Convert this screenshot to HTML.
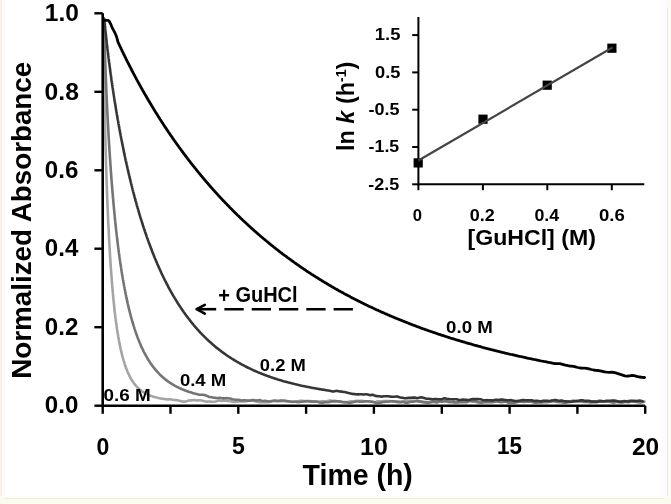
<!DOCTYPE html>
<html><head><meta charset="utf-8"><style>
html,body{margin:0;padding:0;background:#fff;width:671px;height:504px;overflow:hidden;position:relative}
</style></head><body>
<svg width="671" height="504" viewBox="0 0 671 504" style="position:absolute;left:0;top:0;will-change:transform">
<rect x="0" y="0" width="671" height="504" fill="#fff"/>
<rect x="0" y="0" width="1" height="504" fill="#fbf2ec"/>
<rect x="1" y="0" width="1" height="504" fill="#f3ece4"/>
<rect x="2" y="0" width="2" height="504" fill="#fffdf6"/>
<rect x="4" y="0" width="1" height="504" fill="#fdf8f5"/>
<rect x="662" y="0" width="5" height="504" fill="#fdfcfa"/>
<rect x="667" y="0" width="4" height="504" fill="#fcfbf0"/>
<rect x="667" y="8" width="1" height="488" fill="#ebe7e2"/>
<rect x="0" y="496" width="671" height="2" fill="#fdfdf8"/>
<rect x="0" y="498" width="671" height="6" fill="#fcfbef"/>
<rect x="5" y="498" width="659" height="1" fill="#eeebe5"/>
<path d="M103.3,18.0 L103.3,20.7 L103.3,23.4 L103.3,25.9 L103.3,28.2 L103.3,30.3 L103.4,32.4 L103.4,34.5 L103.4,36.6 L103.4,38.6 L103.5,40.6 L103.5,42.6 L103.5,44.5 L103.5,46.5 L103.6,48.4 L103.6,50.2 L103.6,52.0 L103.6,53.9 L103.7,55.7 L103.7,57.4 L103.7,59.2 L103.8,60.9 L103.8,62.6 L103.8,64.3 L103.8,65.9 L103.9,67.6 L103.9,69.2 L103.9,70.8 L103.9,72.4 L104.0,74.0 L104.0,75.5 L104.0,77.1 L104.0,78.6 L104.1,80.1 L104.1,81.6 L104.1,83.1 L104.2,84.6 L104.2,86.0 L104.2,87.5 L104.2,88.9 L104.3,90.3 L104.3,91.7 L104.3,93.1 L104.3,94.5 L104.4,95.8 L104.4,97.2 L104.4,98.5 L104.4,99.8 L104.5,101.1 L104.5,102.4 L104.5,103.7 L104.6,105.0 L104.6,106.3 L104.6,107.6 L104.6,108.8 L104.7,110.1 L104.7,111.3 L104.7,112.5 L104.7,113.7 L104.8,114.9 L104.8,116.1 L104.8,117.3 L104.8,118.5 L104.9,119.6 L104.9,120.8 L104.9,121.9 L105.0,123.1 L105.0,124.2 L105.0,125.3 L105.0,126.5 L105.1,127.6 L105.1,128.7 L105.1,129.8 L105.1,130.8 L105.2,131.9 L105.2,133.0 L105.2,134.1 L105.2,135.1 L105.3,136.2 L105.3,137.2 L105.3,138.2 L105.4,139.3 L105.4,140.3 L105.4,141.3 L105.4,142.3 L105.5,143.3 L105.5,144.3 L105.5,145.3 L105.5,146.3 L105.6,147.2 L105.6,148.2 L105.6,149.2 L105.6,150.1 L105.7,151.1 L105.7,152.0 L105.7,153.0 L105.8,153.9 L105.8,154.8 L105.8,155.7 L105.8,156.7 L105.9,157.6 L105.9,158.5 L105.9,159.4 L105.9,160.3 L106.0,161.2 L106.0,162.0 L106.0,162.9 L106.0,163.8 L106.1,164.7 L106.1,165.5 L106.1,166.4 L106.2,167.2 L106.2,168.1 L106.2,168.9 L106.2,169.8 L106.3,170.6 L106.3,171.4 L106.3,172.3 L106.3,173.1 L106.4,173.9 L106.4,174.7 L106.4,175.5 L106.4,176.3 L106.5,177.1 L106.5,177.9 L106.5,178.7 L106.6,179.5 L106.6,180.3 L106.6,181.0 L106.6,181.8 L106.7,182.6 L106.7,183.3 L106.7,184.1 L106.7,184.8 L106.8,185.6 L106.8,186.3 L106.8,187.1 L106.8,187.8 L106.9,188.6 L106.9,189.3 L106.9,190.0 L107.0,190.8 L107.0,191.5 L107.0,192.2 L107.0,192.9 L107.1,193.6 L107.1,194.3 L107.1,195.0 L107.1,195.7 L107.2,196.4 L107.2,197.1 L107.2,197.8 L107.2,198.5 L107.3,199.2 L107.3,199.8 L107.3,200.5 L107.4,201.2 L107.4,201.9 L107.4,202.5 L107.4,203.2 L107.5,203.9 L107.5,204.5 L107.5,205.2 L107.5,205.8 L107.6,206.5 L107.6,207.2 L107.6,207.8 L107.7,208.5 L107.7,209.2 L107.7,209.8 L107.7,210.5 L107.8,211.2 L107.8,211.8 L107.8,212.5 L107.9,213.2 L107.9,213.8 L107.9,214.5 L107.9,215.2 L108.0,215.8 L108.0,216.5 L108.0,217.1 L108.1,217.8 L108.1,218.5 L108.1,219.1 L108.1,219.8 L108.2,220.5 L108.2,221.1 L108.2,221.8 L108.3,222.5 L108.3,223.1 L108.3,223.8 L108.4,224.5 L108.4,225.1 L108.4,225.8 L108.5,226.4 L108.5,227.1 L108.5,227.8 L108.6,228.4 L108.6,229.1 L108.6,229.8 L108.7,230.4 L108.7,231.1 L108.7,231.8 L108.8,232.4 L108.8,233.1 L108.8,233.7 L108.9,234.4 L108.9,235.1 L108.9,235.7 L109.0,236.4 L109.0,237.1 L109.0,237.7 L109.1,238.4 L109.1,239.1 L109.1,239.7 L109.2,240.4 L109.2,241.1 L109.2,241.7 L109.3,242.4 L109.3,243.0 L109.4,243.7 L109.4,244.4 L109.4,245.0 L109.5,245.7 L109.5,246.4 L109.5,247.0 L109.6,247.7 L109.6,248.3 L109.7,249.0 L109.7,249.7 L109.7,250.3 L109.8,251.0 L109.8,251.7 L109.9,252.3 L109.9,253.0 L109.9,253.7 L110.0,254.3 L110.0,255.0 L110.1,255.6 L110.1,256.3 L110.1,257.0 L110.2,257.6 L110.2,258.3 L110.3,259.0 L110.3,259.6 L110.4,260.3 L110.4,260.9 L110.4,261.6 L110.5,262.3 L110.5,262.9 L110.6,263.6 L110.6,264.3 L110.7,264.9 L110.7,265.6 L110.7,266.2 L110.8,266.9 L110.8,267.6 L110.9,268.2 L110.9,268.9 L111.0,269.6 L111.0,270.2 L111.1,270.9 L111.1,271.5 L111.2,272.2 L111.2,272.9 L111.3,273.5 L111.3,274.2 L111.4,274.9 L111.4,275.5 L111.5,276.2 L111.5,276.8 L111.6,277.5 L111.6,278.2 L111.7,278.8 L111.7,279.5 L111.8,280.2 L111.8,280.8 L111.9,281.5 L111.9,282.1 L112.0,282.8 L112.0,283.5 L112.1,284.1 L112.1,284.8 L112.2,285.5 L112.3,286.1 L112.3,286.8 L112.4,287.4 L112.4,288.1 L112.5,288.8 L112.5,289.4 L112.6,290.1 L112.7,290.7 L112.7,291.4 L112.8,292.1 L112.8,292.7 L112.9,293.4 L113.0,294.0 L113.0,294.7 L113.1,295.4 L113.1,296.0 L113.2,296.7 L113.3,297.4 L113.3,298.0 L113.4,298.7 L113.5,299.3 L113.5,300.0 L113.6,300.7 L113.7,301.3 L113.7,302.0 L113.8,302.6 L113.9,303.3 L113.9,304.0 L114.0,304.6 L114.1,305.3 L114.1,305.9 L114.2,306.6 L114.3,307.3 L114.3,307.9 L114.4,308.6 L114.5,309.2 L114.6,309.9 L114.6,310.6 L114.7,311.2 L114.8,311.9 L114.9,312.5 L114.9,313.2 L115.0,313.9 L115.1,314.5 L115.2,315.2 L115.3,315.8 L115.3,316.5 L115.4,317.2 L115.5,317.8 L115.6,318.5 L115.7,319.1 L115.8,319.8 L115.8,320.4 L115.9,321.1 L116.0,321.8 L116.1,322.4 L116.2,323.1 L116.3,323.7 L116.4,324.4 L116.5,325.1 L116.6,325.7 L116.7,326.4 L116.8,327.0 L116.9,327.7 L116.9,328.3 L117.0,329.0 L117.1,329.7 L117.2,330.3 L117.3,331.0 L117.5,331.6 L117.6,332.3 L117.7,332.9 L117.8,333.6 L117.9,334.3 L118.0,334.9 L118.1,335.6 L118.2,336.2 L118.3,336.9 L118.4,337.5 L118.5,338.2 L118.7,338.9 L118.8,339.5 L118.9,340.2 L119.0,340.8 L119.1,341.5 L119.3,342.1 L119.4,342.8 L119.5,343.4 L119.6,344.1 L119.8,344.8 L119.9,345.4 L120.0,346.1 L120.2,346.7 L120.3,347.4 L120.5,348.0 L120.6,348.7 L120.7,349.3 L120.9,350.0 L121.0,350.6 L121.2,351.3 L121.3,351.9 L121.5,352.6 L121.7,353.3 L121.8,353.9 L122.0,354.6 L122.1,355.2 L122.3,355.9 L122.5,356.5 L122.7,357.2 L122.8,357.8 L123.0,358.5 L123.2,359.1 L123.4,359.8 L123.6,360.4 L123.8,361.1 L124.0,361.7 L124.2,362.4 L124.4,363.0 L124.6,363.7 L124.8,364.3 L125.0,365.0 L125.2,365.6 L125.4,366.3 L125.7,366.9 L125.9,367.6 L126.1,368.2 L126.4,368.8 L126.6,369.5 L126.9,370.1 L127.2,370.8 L127.4,371.4 L127.7,372.1 L128.0,372.7 L128.3,373.4 L128.6,374.0 L128.9,374.6 L129.2,375.3 L129.5,375.9 L129.8,376.6 L130.2,377.2 L130.5,377.8 L130.9,378.5 L131.2,379.1 L131.6,379.8 L132.0,380.4 L132.4,381.0 L132.8,381.7 L133.3,382.3 L133.7,382.9 L134.2,383.6 L134.7,384.2 L135.2,384.8 L135.7,385.4 L136.2,386.1 L136.8,386.7 L137.4,387.3 L138.0,387.9 L138.7,388.5 L139.4,389.2 L140.1,389.8 L140.9,390.4 L141.7,391.0 L142.6,391.6 L143.5,392.2 L144.4,392.8 L145.4,393.4 L146.5,393.9 L147.5,394.4 L148.5,394.9 L149.5,395.3 L150.5,395.7 L151.5,396.0 L152.5,396.4 L153.5,396.7 L154.5,397.0 L155.5,397.3 L156.5,397.5 L157.5,397.8 L158.5,398.0 L159.5,398.2 L160.5,398.4 L161.5,398.6 L162.5,398.7 L163.5,398.9 L164.5,399.0 L165.5,399.2 L166.5,399.3 L167.5,399.4 L168.5,399.4 L169.5,399.3 L170.5,399.3 L171.5,399.5 L172.5,399.7 L173.5,399.9 L174.5,400.0 L175.5,400.0 L176.5,400.1 L177.5,400.3 L178.5,400.5 L179.5,400.8 L180.5,401.0 L181.5,401.3 L182.5,401.5 L183.5,401.6 L184.5,401.6 L185.5,401.5 L186.5,401.3 L187.5,400.9 L188.5,400.6 L189.5,400.5 L190.5,400.4 L191.5,400.4 L192.5,400.3 L193.5,400.1 L194.5,400.1 L195.5,400.2 L196.5,400.4 L197.5,400.5 L198.5,400.4 L199.5,400.3 L200.5,400.3 L201.5,400.5 L202.5,400.8 L203.5,401.1 L204.5,401.3 L205.5,401.5 L206.5,401.7 L207.5,401.6 L208.5,401.5 L209.5,401.5 L210.5,401.6 L211.5,401.7 L212.5,401.8 L213.5,401.8 L214.5,401.7 L215.5,401.5 L216.5,401.2 L217.5,400.8 L218.5,400.6 L219.5,400.6 L220.5,400.8 L221.5,400.9 L222.5,400.8 L223.5,400.6 L224.5,400.6 L225.5,400.6 L226.5,400.8 L227.5,400.9 L228.5,401.0 L229.5,401.0 L230.5,401.1 L231.5,401.4 L232.5,401.7 L233.5,401.9 L234.5,401.9 L235.5,401.8 L236.5,401.8 L237.5,401.7 L238.5,401.5 L239.5,401.4 L240.5,401.4 L241.5,401.5 L242.5,401.5 L243.5,401.5 L244.5,401.5 L245.5,401.4 L246.5,401.2 L247.5,400.9 L248.5,400.7 L249.5,400.6 L250.5,400.6 L251.5,400.6 L252.5,400.7 L253.5,400.8 L254.5,400.9 L255.5,401.2 L256.5,401.5 L257.5,401.8 L258.5,402.0 L259.5,402.1 L260.5,402.2 L261.5,402.2 L262.5,402.1 L263.5,402.0 L264.5,402.1 L265.5,402.2 L266.5,402.2 L267.5,402.1 L268.5,402.0 L269.5,401.9 L270.5,401.6 L271.5,401.3 L272.5,401.1 L273.5,400.8 L274.5,400.6 L275.5,400.5 L276.5,400.6 L277.5,400.9 L278.5,401.0 L279.5,401.1 L280.5,401.1 L281.5,401.1 L282.5,401.2 L283.5,401.2 L284.5,401.3 L285.5,401.3 L286.5,401.4 L287.5,401.4 L288.5,401.5 L289.5,401.7 L290.5,401.8 L291.5,401.8 L292.5,401.8 L293.5,401.8 L294.5,401.6 L295.5,401.5 L296.5,401.3 L297.5,401.2 L298.5,401.1 L299.5,401.0 L300.5,400.9 L301.5,400.9 L302.5,400.9 L303.5,401.0 L304.5,401.1 L305.5,401.2 L306.5,401.2 L307.5,401.2 L308.5,401.2 L309.5,401.1 L310.5,401.1 L311.5,401.2 L312.5,401.3 L313.5,401.4 L314.5,401.5 L315.5,401.6 L316.5,401.8 L317.5,401.8 L318.5,401.8 L319.5,401.6 L320.5,401.5 L321.5,401.4 L322.5,401.3 L323.5,401.2 L324.5,401.2 L325.5,401.3 L326.5,401.2 L327.5,401.0 L328.5,400.7 L329.5,400.5 L330.5,400.6 L331.5,400.7 L332.5,400.9 L333.5,400.9 L334.5,400.9 L335.5,400.9 L336.5,401.1 L337.5,401.4 L338.5,401.6 L339.5,401.8 L340.5,401.9 L341.5,402.0 L342.5,402.0 L343.5,402.0 L344.5,402.1 L345.5,402.1 L346.5,402.1 L347.5,402.0 L348.5,401.8 L349.5,401.6 L350.5,401.4 L351.5,401.4 L352.5,401.4 L353.5,401.4 L354.5,401.2 L355.5,400.9 L356.5,400.8 L357.5,400.8 L358.5,400.9 L359.5,401.0 L360.5,400.9 L361.5,400.9 L362.5,400.9 L363.5,401.0 L364.5,401.2 L365.5,401.3 L366.5,401.3 L367.5,401.3 L368.5,401.3 L369.5,401.3 L370.5,401.5 L371.5,401.6 L372.5,401.9 L373.5,402.2 L374.5,402.3 L375.5,402.0 L376.5,401.6 L377.5,401.3 L378.5,401.2 L379.5,401.3 L380.5,401.4 L381.5,401.3 L382.5,401.2 L383.5,401.1 L384.5,401.1 L385.5,401.1 L386.5,401.1 L387.5,401.1 L388.5,401.0 L389.5,401.0 L390.5,401.2 L391.5,401.4 L392.5,401.5 L393.5,401.4 L394.5,401.3 L395.5,401.3 L396.5,401.3 L397.5,401.4 L398.5,401.4 L399.5,401.5 L400.5,401.5 L401.5,401.5 L402.5,401.4 L403.5,401.3 L404.5,401.2 L405.5,401.1 L406.5,400.9 L407.5,400.8 L408.5,400.7 L409.5,400.6 L410.5,400.6 L411.5,400.7 L412.5,400.8 L413.5,400.9 L414.5,400.9 L415.5,400.7 L416.5,400.8 L417.5,401.1 L418.5,401.5 L419.5,401.8 L420.5,401.9 L421.5,401.9 L422.5,401.9 L423.5,401.9 L424.5,401.9 L425.5,401.9 L426.5,402.0 L427.5,402.0 L428.5,402.0 L429.5,401.8 L430.5,401.5 L431.5,401.3 L432.5,401.4 L433.5,401.5 L434.5,401.6 L435.5,401.6 L436.5,401.4 L437.5,401.3 L438.5,401.2 L439.5,401.2 L440.5,401.1 L441.5,401.1 L442.5,401.0 L443.5,401.0 L444.5,401.2 L445.5,401.5 L446.5,401.7 L447.5,401.8 L448.5,401.9 L449.5,401.9 L450.5,402.0 L451.5,402.0 L452.5,402.0 L453.5,402.1 L454.5,402.2 L455.5,402.2 L456.5,402.1 L457.5,401.9 L458.5,401.7 L459.5,401.5 L460.5,401.2 L461.5,401.1 L462.5,401.0 L463.5,401.0 L464.5,401.0 L465.5,400.9 L466.5,400.7 L467.5,400.6 L468.5,400.6 L469.5,400.6 L470.5,400.8 L471.5,401.0 L472.5,401.3 L473.5,401.6 L474.5,401.8 L475.5,401.9 L476.5,402.0 L477.5,402.1 L478.5,402.3 L479.5,402.3 L480.5,402.3 L481.5,402.3 L482.5,402.2 L483.5,402.0 L484.5,401.8 L485.5,401.6 L486.5,401.3 L487.5,401.0 L488.5,400.8 L489.5,400.8 L490.5,400.8 L491.5,400.9 L492.5,401.1 L493.5,401.2 L494.5,401.3 L495.5,401.4 L496.5,401.3 L497.5,401.3 L498.5,401.3 L499.5,401.3 L500.5,401.4 L501.5,401.5 L502.5,401.6 L503.5,401.7 L504.5,401.7 L505.5,401.6 L506.5,401.6 L507.5,401.6 L508.5,401.5 L509.5,401.5 L510.5,401.4 L511.5,401.2 L512.5,401.1 L513.5,401.3 L514.5,401.5 L515.5,401.6 L516.5,401.5 L517.5,401.3 L518.5,401.1 L519.5,400.9 L520.5,400.6 L521.5,400.5 L522.5,400.6 L523.5,400.8 L524.5,401.0 L525.5,401.0 L526.5,400.9 L527.5,400.9 L528.5,401.0 L529.5,401.2 L530.5,401.4 L531.5,401.7 L532.5,401.9 L533.5,402.1 L534.5,402.1 L535.5,402.1 L536.5,402.0 L537.5,401.8 L538.5,401.7 L539.5,401.5 L540.5,401.3 L541.5,401.1 L542.5,401.0 L543.5,401.0 L544.5,401.0 L545.5,401.1 L546.5,401.2 L547.5,401.3 L548.5,401.3 L549.5,401.3 L550.5,401.1 L551.5,401.0 L552.5,400.9 L553.5,400.9 L554.5,400.9 L555.5,401.0 L556.5,401.1 L557.5,401.3 L558.5,401.3 L559.5,401.3 L560.5,401.5 L561.5,401.7 L562.5,402.1 L563.5,402.3 L564.5,402.1 L565.5,401.8 L566.5,401.6 L567.5,401.6 L568.5,401.6 L569.5,401.5 L570.5,401.3 L571.5,400.9 L572.5,400.6 L573.5,400.5 L574.5,400.6 L575.5,400.6 L576.5,400.8 L577.5,401.0 L578.5,401.2 L579.5,401.5 L580.5,401.7 L581.5,401.8 L582.5,401.7 L583.5,401.6 L584.5,401.5 L585.5,401.5 L586.5,401.4 L587.5,401.4 L588.5,401.7 L589.5,402.0 L590.5,402.2 L591.5,402.0 L592.5,401.6 L593.5,401.3 L594.5,401.3 L595.5,401.5 L596.5,401.5 L597.5,401.2 L598.5,400.8 L599.5,400.6 L600.5,400.7 L601.5,400.9 L602.5,401.1 L603.5,401.2 L604.5,401.3 L605.5,401.4 L606.5,401.5 L607.5,401.6 L608.5,401.6 L609.5,401.6 L610.5,401.5 L611.5,401.6 L612.5,401.7 L613.5,402.0 L614.5,402.1 L615.5,401.9 L616.5,401.7 L617.5,401.5 L618.5,401.4 L619.5,401.4 L620.5,401.4 L621.5,401.3 L622.5,401.2 L623.5,401.1 L624.5,401.2 L625.5,401.3 L626.5,401.3 L627.5,401.1 L628.5,400.7 L629.5,400.5 L630.5,400.7 L631.5,401.1 L632.5,401.4 L633.5,401.5 L634.5,401.6 L635.5,401.7 L636.5,401.8 L637.5,402.1 L638.5,402.2 L639.5,402.1 L640.5,401.9 L641.5,401.7 L642.5,401.6 L643.5,401.6 L644.5,401.5" fill="none" stroke="#a4a4a4" stroke-width="2.6" stroke-linejoin="round" stroke-linecap="round"/>
<path d="M103.3,18.0 L103.5,19.4 L103.8,20.8 L104.0,22.1 L104.0,23.1 L104.0,24.1 L104.0,25.0 L104.1,26.0 L104.1,26.9 L104.1,27.9 L104.1,28.8 L104.2,29.7 L104.2,30.7 L104.2,31.6 L104.3,32.5 L104.3,33.4 L104.3,34.3 L104.3,35.2 L104.4,36.1 L104.4,37.0 L104.4,37.9 L104.4,38.7 L104.5,39.6 L104.5,40.5 L104.5,41.3 L104.5,42.2 L104.6,43.0 L104.6,43.9 L104.6,44.7 L104.7,45.5 L104.7,46.4 L104.7,47.2 L104.7,48.0 L104.8,48.8 L104.8,49.6 L104.8,50.4 L104.8,51.2 L104.9,52.0 L104.9,52.8 L104.9,53.6 L104.9,54.4 L105.0,55.1 L105.0,55.9 L105.0,56.7 L105.1,57.5 L105.1,58.2 L105.1,59.0 L105.1,59.7 L105.2,60.5 L105.2,61.2 L105.2,62.0 L105.2,62.7 L105.3,63.4 L105.3,64.2 L105.3,64.9 L105.3,65.6 L105.4,66.3 L105.4,67.1 L105.4,67.8 L105.5,68.5 L105.5,69.2 L105.5,69.9 L105.5,70.6 L105.6,71.3 L105.6,72.0 L105.6,72.7 L105.6,73.4 L105.7,74.0 L105.7,74.7 L105.7,75.4 L105.7,76.1 L105.8,76.8 L105.8,77.4 L105.8,78.1 L105.9,78.8 L105.9,79.4 L105.9,80.1 L105.9,80.8 L106.0,81.4 L106.0,82.1 L106.0,82.7 L106.0,83.4 L106.1,84.1 L106.1,84.7 L106.1,85.4 L106.2,86.1 L106.2,86.7 L106.2,87.4 L106.2,88.1 L106.3,88.7 L106.3,89.4 L106.3,90.1 L106.4,90.7 L106.4,91.4 L106.4,92.1 L106.4,92.7 L106.5,93.4 L106.5,94.1 L106.5,94.7 L106.6,95.4 L106.6,96.0 L106.6,96.7 L106.6,97.4 L106.7,98.0 L106.7,98.7 L106.7,99.4 L106.8,100.0 L106.8,100.7 L106.8,101.4 L106.9,102.0 L106.9,102.7 L106.9,103.4 L107.0,104.0 L107.0,104.7 L107.0,105.4 L107.0,106.0 L107.1,106.7 L107.1,107.3 L107.1,108.0 L107.2,108.7 L107.2,109.3 L107.2,110.0 L107.3,110.7 L107.3,111.3 L107.3,112.0 L107.4,112.7 L107.4,113.3 L107.4,114.0 L107.5,114.7 L107.5,115.3 L107.5,116.0 L107.6,116.7 L107.6,117.3 L107.6,118.0 L107.7,118.6 L107.7,119.3 L107.7,120.0 L107.8,120.6 L107.8,121.3 L107.8,122.0 L107.9,122.6 L107.9,123.3 L108.0,124.0 L108.0,124.6 L108.0,125.3 L108.1,126.0 L108.1,126.6 L108.1,127.3 L108.2,127.9 L108.2,128.6 L108.2,129.3 L108.3,129.9 L108.3,130.6 L108.4,131.3 L108.4,131.9 L108.4,132.6 L108.5,133.3 L108.5,133.9 L108.5,134.6 L108.6,135.3 L108.6,135.9 L108.7,136.6 L108.7,137.2 L108.7,137.9 L108.8,138.6 L108.8,139.2 L108.9,139.9 L108.9,140.6 L108.9,141.2 L109.0,141.9 L109.0,142.6 L109.0,143.2 L109.1,143.9 L109.1,144.6 L109.2,145.2 L109.2,145.9 L109.3,146.5 L109.3,147.2 L109.3,147.9 L109.4,148.5 L109.4,149.2 L109.5,149.9 L109.5,150.5 L109.5,151.2 L109.6,151.9 L109.6,152.5 L109.7,153.2 L109.7,153.9 L109.8,154.5 L109.8,155.2 L109.8,155.8 L109.9,156.5 L109.9,157.2 L110.0,157.8 L110.0,158.5 L110.1,159.2 L110.1,159.8 L110.2,160.5 L110.2,161.2 L110.2,161.8 L110.3,162.5 L110.3,163.1 L110.4,163.8 L110.4,164.5 L110.5,165.1 L110.5,165.8 L110.6,166.5 L110.6,167.1 L110.7,167.8 L110.7,168.5 L110.7,169.1 L110.8,169.8 L110.8,170.5 L110.9,171.1 L110.9,171.8 L111.0,172.4 L111.0,173.1 L111.1,173.8 L111.1,174.4 L111.2,175.1 L111.2,175.8 L111.3,176.4 L111.3,177.1 L111.4,177.8 L111.4,178.4 L111.5,179.1 L111.5,179.7 L111.6,180.4 L111.6,181.1 L111.7,181.7 L111.7,182.4 L111.8,183.1 L111.8,183.7 L111.9,184.4 L111.9,185.1 L112.0,185.7 L112.1,186.4 L112.1,187.0 L112.2,187.7 L112.2,188.4 L112.3,189.0 L112.3,189.7 L112.4,190.4 L112.4,191.0 L112.5,191.7 L112.5,192.4 L112.6,193.0 L112.7,193.7 L112.7,194.3 L112.8,195.0 L112.8,195.7 L112.9,196.3 L112.9,197.0 L113.0,197.7 L113.1,198.3 L113.1,199.0 L113.2,199.6 L113.2,200.3 L113.3,201.0 L113.3,201.6 L113.4,202.3 L113.5,203.0 L113.5,203.6 L113.6,204.3 L113.6,205.0 L113.7,205.6 L113.8,206.3 L113.8,206.9 L113.9,207.6 L113.9,208.3 L114.0,208.9 L114.1,209.6 L114.1,210.3 L114.2,210.9 L114.3,211.6 L114.3,212.2 L114.4,212.9 L114.5,213.6 L114.5,214.2 L114.6,214.9 L114.7,215.6 L114.7,216.2 L114.8,216.9 L114.8,217.6 L114.9,218.2 L115.0,218.9 L115.0,219.5 L115.1,220.2 L115.2,220.9 L115.3,221.5 L115.3,222.2 L115.4,222.9 L115.5,223.5 L115.5,224.2 L115.6,224.8 L115.7,225.5 L115.7,226.2 L115.8,226.8 L115.9,227.5 L116.0,228.2 L116.0,228.8 L116.1,229.5 L116.2,230.1 L116.2,230.8 L116.3,231.5 L116.4,232.1 L116.5,232.8 L116.5,233.5 L116.6,234.1 L116.7,234.8 L116.8,235.4 L116.8,236.1 L116.9,236.8 L117.0,237.4 L117.1,238.1 L117.2,238.8 L117.2,239.4 L117.3,240.1 L117.4,240.7 L117.5,241.4 L117.6,242.1 L117.6,242.7 L117.7,243.4 L117.8,244.1 L117.9,244.7 L118.0,245.4 L118.1,246.0 L118.1,246.7 L118.2,247.4 L118.3,248.0 L118.4,248.7 L118.5,249.4 L118.6,250.0 L118.6,250.7 L118.7,251.3 L118.8,252.0 L118.9,252.7 L119.0,253.3 L119.1,254.0 L119.2,254.6 L119.3,255.3 L119.4,256.0 L119.4,256.6 L119.5,257.3 L119.6,258.0 L119.7,258.6 L119.8,259.3 L119.9,259.9 L120.0,260.6 L120.1,261.3 L120.2,261.9 L120.3,262.6 L120.4,263.3 L120.5,263.9 L120.6,264.6 L120.7,265.2 L120.8,265.9 L120.9,266.6 L121.0,267.2 L121.1,267.9 L121.2,268.5 L121.3,269.2 L121.4,269.9 L121.5,270.5 L121.6,271.2 L121.7,271.8 L121.8,272.5 L121.9,273.2 L122.0,273.8 L122.1,274.5 L122.2,275.2 L122.4,275.8 L122.5,276.5 L122.6,277.1 L122.7,277.8 L122.8,278.5 L122.9,279.1 L123.0,279.8 L123.1,280.4 L123.3,281.1 L123.4,281.8 L123.5,282.4 L123.6,283.1 L123.7,283.7 L123.9,284.4 L124.0,285.1 L124.1,285.7 L124.2,286.4 L124.3,287.0 L124.5,287.7 L124.6,288.4 L124.7,289.0 L124.8,289.7 L125.0,290.3 L125.1,291.0 L125.2,291.7 L125.4,292.3 L125.5,293.0 L125.6,293.7 L125.8,294.3 L125.9,295.0 L126.0,295.6 L126.2,296.3 L126.3,297.0 L126.4,297.6 L126.6,298.3 L126.7,298.9 L126.9,299.6 L127.0,300.2 L127.1,300.9 L127.3,301.6 L127.4,302.2 L127.6,302.9 L127.7,303.5 L127.9,304.2 L128.0,304.9 L128.2,305.5 L128.3,306.2 L128.5,306.8 L128.7,307.5 L128.8,308.2 L129.0,308.8 L129.1,309.5 L129.3,310.1 L129.5,310.8 L129.6,311.5 L129.8,312.1 L130.0,312.8 L130.1,313.4 L130.3,314.1 L130.5,314.7 L130.6,315.4 L130.8,316.1 L131.0,316.7 L131.2,317.4 L131.4,318.0 L131.5,318.7 L131.7,319.4 L131.9,320.0 L132.1,320.7 L132.3,321.3 L132.5,322.0 L132.7,322.6 L132.9,323.3 L133.1,324.0 L133.3,324.6 L133.5,325.3 L133.7,325.9 L133.9,326.6 L134.1,327.2 L134.3,327.9 L134.5,328.6 L134.7,329.2 L134.9,329.9 L135.1,330.5 L135.4,331.2 L135.6,331.8 L135.8,332.5 L136.0,333.2 L136.3,333.8 L136.5,334.5 L136.7,335.1 L137.0,335.8 L137.2,336.4 L137.5,337.1 L137.7,337.7 L138.0,338.4 L138.2,339.1 L138.5,339.7 L138.7,340.4 L139.0,341.0 L139.3,341.7 L139.5,342.3 L139.8,343.0 L140.1,343.6 L140.4,344.3 L140.6,345.0 L140.9,345.6 L141.2,346.3 L141.5,346.9 L141.8,347.6 L142.1,348.2 L142.4,348.9 L142.7,349.5 L143.1,350.2 L143.4,350.8 L143.7,351.5 L144.0,352.1 L144.4,352.8 L144.7,353.4 L145.1,354.1 L145.4,354.7 L145.8,355.4 L146.1,356.0 L146.5,356.7 L146.9,357.4 L147.3,358.0 L147.6,358.7 L148.0,359.3 L148.4,360.0 L148.8,360.6 L149.3,361.3 L149.7,361.9 L150.1,362.6 L150.5,363.2 L151.0,363.8 L151.5,364.5 L151.9,365.1 L152.4,365.8 L152.9,366.4 L153.4,367.1 L153.9,367.7 L154.4,368.4 L154.9,369.0 L155.4,369.7 L156.0,370.3 L156.5,371.0 L157.1,371.6 L157.7,372.2 L158.3,372.9 L158.9,373.5 L159.5,374.2 L160.2,374.8 L160.9,375.5 L161.5,376.1 L162.2,376.7 L163.0,377.4 L163.7,378.0 L164.5,378.7 L165.2,379.3 L166.0,379.9 L166.9,380.6 L167.7,381.2 L168.6,381.8 L169.5,382.5 L170.5,383.1 L171.5,383.7 L172.5,384.4 L173.5,384.9 L174.5,385.5 L175.5,386.1 L176.5,386.6 L177.5,387.1 L178.5,387.6 L179.5,388.1 L180.5,388.5 L181.5,389.0 L182.5,389.4 L183.5,389.8 L184.5,390.2 L185.5,390.6 L186.5,391.0 L187.5,391.3 L188.5,391.7 L189.5,392.0 L190.5,392.3 L191.5,392.6 L192.5,392.9 L193.5,393.2 L194.5,393.5 L195.5,393.7 L196.5,394.0 L197.5,394.3 L198.5,394.5 L199.5,394.7 L200.5,394.8 L201.5,394.8 L202.5,394.8 L203.5,394.9 L204.5,395.0 L205.5,395.3 L206.5,395.7 L207.5,396.2 L208.5,396.7 L209.5,396.9 L210.5,397.1 L211.5,397.3 L212.5,397.5 L213.5,397.7 L214.5,397.8 L215.5,397.9 L216.5,398.0 L217.5,398.0 L218.5,398.0 L219.5,397.9 L220.5,397.9 L221.5,398.1 L222.5,398.2 L223.5,398.4 L224.5,398.3 L225.5,398.2 L226.5,398.1 L227.5,398.2 L228.5,398.2 L229.5,398.4 L230.5,398.6 L231.5,398.9 L232.5,399.2 L233.5,399.4 L234.5,399.6 L235.5,399.7 L236.5,399.7 L237.5,399.7 L238.5,399.8 L239.5,400.0 L240.5,400.3 L241.5,400.5 L242.5,400.4 L243.5,400.2 L244.5,400.2 L245.5,400.3 L246.5,400.5 L247.5,400.6 L248.5,400.6 L249.5,400.6 L250.5,400.5 L251.5,400.3 L252.5,400.1 L253.5,400.1 L254.5,400.2 L255.5,400.4 L256.5,400.5 L257.5,400.4 L258.5,400.2 L259.5,400.1 L260.5,400.3 L261.5,400.7 L262.5,401.0 L263.5,401.0 L264.5,400.9 L265.5,400.9 L266.5,401.1 L267.5,401.3 L268.5,401.5 L269.5,401.4 L270.5,401.2 L271.5,401.1 L272.5,401.0 L273.5,400.9 L274.5,400.9 L275.5,400.9 L276.5,401.1 L277.5,401.1 L278.5,400.9 L279.5,400.7 L280.5,400.6 L281.5,400.5 L282.5,400.5 L283.5,400.5 L284.5,400.6 L285.5,400.7 L286.5,400.9 L287.5,401.1 L288.5,401.2 L289.5,401.4 L290.5,401.6 L291.5,401.8 L292.5,401.9 L293.5,401.8 L294.5,401.8 L295.5,401.7 L296.5,401.9 L297.5,402.0 L298.5,402.1 L299.5,402.0 L300.5,401.8 L301.5,401.7 L302.5,401.6 L303.5,401.5 L304.5,401.4 L305.5,401.3 L306.5,401.1 L307.5,401.1 L308.5,401.2 L309.5,401.4 L310.5,401.5 L311.5,401.6 L312.5,401.6 L313.5,401.6 L314.5,401.5 L315.5,401.5 L316.5,401.5 L317.5,401.7 L318.5,402.1 L319.5,402.4 L320.5,402.6 L321.5,402.7 L322.5,402.7 L323.5,402.6 L324.5,402.3 L325.5,402.2 L326.5,402.2 L327.5,402.3 L328.5,402.3 L329.5,402.0 L330.5,401.7 L331.5,401.4 L332.5,401.4 L333.5,401.4 L334.5,401.4 L335.5,401.4 L336.5,401.3 L337.5,401.3 L338.5,401.4 L339.5,401.4 L340.5,401.6 L341.5,401.8 L342.5,402.1 L343.5,402.3 L344.5,402.3 L345.5,402.3 L346.5,402.3 L347.5,402.5 L348.5,402.7 L349.5,402.8 L350.5,402.8 L351.5,402.6 L352.5,402.3 L353.5,402.1 L354.5,401.8 L355.5,401.6 L356.5,401.5 L357.5,401.5 L358.5,401.5 L359.5,401.6 L360.5,401.7 L361.5,401.8 L362.5,401.7 L363.5,401.5 L364.5,401.4 L365.5,401.3 L366.5,401.2 L367.5,401.2 L368.5,401.4 L369.5,401.6 L370.5,401.8 L371.5,401.8 L372.5,401.8 L373.5,401.9 L374.5,402.2 L375.5,402.7 L376.5,402.9 L377.5,403.0 L378.5,402.9 L379.5,402.8 L380.5,402.7 L381.5,402.5 L382.5,402.3 L383.5,402.1 L384.5,401.9 L385.5,401.8 L386.5,401.8 L387.5,401.8 L388.5,401.8 L389.5,401.6 L390.5,401.3 L391.5,401.2 L392.5,401.2 L393.5,401.4 L394.5,401.5 L395.5,401.7 L396.5,401.9 L397.5,402.1 L398.5,402.2 L399.5,402.2 L400.5,402.2 L401.5,402.1 L402.5,402.0 L403.5,402.0 L404.5,402.3 L405.5,402.7 L406.5,402.8 L407.5,402.7 L408.5,402.3 L409.5,402.0 L410.5,401.9 L411.5,401.8 L412.5,401.7 L413.5,401.6 L414.5,401.5 L415.5,401.3 L416.5,401.3 L417.5,401.3 L418.5,401.3 L419.5,401.4 L420.5,401.5 L421.5,401.6 L422.5,401.9 L423.5,402.2 L424.5,402.4 L425.5,402.5 L426.5,402.6 L427.5,402.6 L428.5,402.6 L429.5,402.5 L430.5,402.4 L431.5,402.2 L432.5,402.0 L433.5,401.9 L434.5,402.0 L435.5,402.3 L436.5,402.4 L437.5,402.2 L438.5,401.8 L439.5,401.5 L440.5,401.5 L441.5,401.6 L442.5,401.6 L443.5,401.4 L444.5,401.2 L445.5,401.1 L446.5,401.3 L447.5,401.6 L448.5,401.9 L449.5,402.0 L450.5,402.0 L451.5,402.0 L452.5,402.1 L453.5,402.3 L454.5,402.4 L455.5,402.4 L456.5,402.4 L457.5,402.4 L458.5,402.4 L459.5,402.3 L460.5,402.2 L461.5,402.2 L462.5,402.2 L463.5,402.1 L464.5,402.2 L465.5,402.3 L466.5,402.2 L467.5,401.9 L468.5,401.5 L469.5,401.1 L470.5,401.1 L471.5,401.3 L472.5,401.4 L473.5,401.3 L474.5,401.2 L475.5,401.3 L476.5,401.6 L477.5,402.0 L478.5,402.3 L479.5,402.5 L480.5,402.6 L481.5,402.6 L482.5,402.5 L483.5,402.3 L484.5,402.2 L485.5,402.2 L486.5,402.3 L487.5,402.3 L488.5,402.3 L489.5,402.3 L490.5,402.2 L491.5,402.2 L492.5,402.1 L493.5,401.9 L494.5,401.7 L495.5,401.4 L496.5,401.2 L497.5,401.4 L498.5,401.7 L499.5,401.9 L500.5,402.0 L501.5,402.1 L502.5,402.0 L503.5,401.9 L504.5,401.8 L505.5,401.7 L506.5,402.0 L507.5,402.4 L508.5,402.8 L509.5,402.8 L510.5,402.8 L511.5,402.8 L512.5,402.8 L513.5,402.8 L514.5,402.7 L515.5,402.5 L516.5,402.3 L517.5,402.1 L518.5,401.9 L519.5,401.6 L520.5,401.5 L521.5,401.6 L522.5,401.8 L523.5,402.0 L524.5,401.9 L525.5,401.8 L526.5,401.6 L527.5,401.6 L528.5,401.6 L529.5,401.6 L530.5,401.6 L531.5,401.7 L532.5,401.9 L533.5,402.2 L534.5,402.6 L535.5,402.8 L536.5,402.8 L537.5,402.6 L538.5,402.4 L539.5,402.4 L540.5,402.4 L541.5,402.4 L542.5,402.4 L543.5,402.3 L544.5,402.2 L545.5,402.2 L546.5,402.1 L547.5,402.1 L548.5,402.0 L549.5,401.8 L550.5,401.7 L551.5,401.5 L552.5,401.3 L553.5,401.2 L554.5,401.4 L555.5,401.6 L556.5,401.9 L557.5,402.0 L558.5,402.0 L559.5,402.1 L560.5,402.2 L561.5,402.3 L562.5,402.4 L563.5,402.6 L564.5,402.7 L565.5,402.7 L566.5,402.6 L567.5,402.3 L568.5,402.1 L569.5,402.0 L570.5,401.9 L571.5,401.8 L572.5,401.6 L573.5,401.5 L574.5,401.4 L575.5,401.3 L576.5,401.3 L577.5,401.3 L578.5,401.2 L579.5,401.1 L580.5,401.1 L581.5,401.3 L582.5,401.6 L583.5,401.9 L584.5,401.9 L585.5,401.9 L586.5,401.9 L587.5,401.9 L588.5,402.0 L589.5,402.1 L590.5,402.1 L591.5,402.1 L592.5,402.1 L593.5,402.1 L594.5,402.2 L595.5,402.2 L596.5,402.1 L597.5,402.0 L598.5,401.8 L599.5,401.7 L600.5,401.6 L601.5,401.6 L602.5,401.5 L603.5,401.5 L604.5,401.5 L605.5,401.5 L606.5,401.5 L607.5,401.6 L608.5,401.7 L609.5,401.9 L610.5,402.1 L611.5,402.3 L612.5,402.5 L613.5,402.6 L614.5,402.4 L615.5,402.1 L616.5,401.9 L617.5,402.0 L618.5,402.1 L619.5,402.2 L620.5,402.4 L621.5,402.5 L622.5,402.5 L623.5,402.3 L624.5,402.0 L625.5,401.8 L626.5,401.9 L627.5,402.1 L628.5,402.1 L629.5,401.9 L630.5,401.5 L631.5,401.3 L632.5,401.3 L633.5,401.6 L634.5,401.8 L635.5,401.8 L636.5,401.9 L637.5,401.9 L638.5,402.1 L639.5,402.3 L640.5,402.4 L641.5,402.3 L642.5,402.1 L643.5,401.9" fill="none" stroke="#747474" stroke-width="2.6" stroke-linejoin="round" stroke-linecap="round"/>
<path d="M103.3,18.0 L103.7,18.3 L104.0,18.6 L104.3,19.0 L104.4,19.6 L104.5,20.3 L104.5,21.0 L104.6,21.7 L104.6,22.3 L104.7,23.0 L104.8,23.6 L104.8,24.3 L104.9,25.0 L104.9,25.6 L105.0,26.3 L105.1,27.0 L105.1,27.6 L105.2,28.3 L105.3,28.9 L105.3,29.6 L105.4,30.3 L105.5,30.9 L105.6,31.6 L105.6,32.3 L105.7,32.9 L105.8,33.6 L105.8,34.2 L105.9,34.9 L106.0,35.6 L106.0,36.2 L106.1,36.9 L106.2,37.6 L106.3,38.2 L106.3,38.9 L106.4,39.5 L106.5,40.2 L106.6,40.9 L106.6,41.5 L106.7,42.2 L106.8,42.9 L106.9,43.5 L106.9,44.2 L107.0,44.9 L107.1,45.5 L107.2,46.2 L107.2,46.8 L107.3,47.5 L107.4,48.2 L107.5,48.8 L107.6,49.5 L107.6,50.2 L107.7,50.8 L107.8,51.5 L107.9,52.1 L108.0,52.8 L108.0,53.5 L108.1,54.1 L108.2,54.8 L108.3,55.5 L108.4,56.1 L108.4,56.8 L108.5,57.5 L108.6,58.1 L108.7,58.8 L108.8,59.4 L108.9,60.1 L108.9,60.8 L109.0,61.4 L109.1,62.1 L109.2,62.8 L109.3,63.4 L109.4,64.1 L109.5,64.8 L109.5,65.4 L109.6,66.1 L109.7,66.7 L109.8,67.4 L109.9,68.1 L110.0,68.7 L110.1,69.4 L110.2,70.1 L110.2,70.7 L110.3,71.4 L110.4,72.1 L110.5,72.7 L110.6,73.4 L110.7,74.0 L110.8,74.7 L110.9,75.4 L111.0,76.0 L111.1,76.7 L111.2,77.4 L111.3,78.0 L111.3,78.7 L111.4,79.4 L111.5,80.0 L111.6,80.7 L111.7,81.3 L111.8,82.0 L111.9,82.7 L112.0,83.3 L112.1,84.0 L112.2,84.7 L112.3,85.3 L112.4,86.0 L112.5,86.7 L112.6,87.3 L112.7,88.0 L112.8,88.6 L112.9,89.3 L113.0,90.0 L113.1,90.6 L113.2,91.3 L113.3,92.0 L113.4,92.6 L113.5,93.3 L113.6,94.0 L113.7,94.6 L113.8,95.3 L113.9,95.9 L114.0,96.6 L114.1,97.3 L114.2,97.9 L114.3,98.6 L114.4,99.3 L114.5,99.9 L114.6,100.6 L114.7,101.3 L114.8,101.9 L114.9,102.6 L115.0,103.2 L115.2,103.9 L115.3,104.6 L115.4,105.2 L115.5,105.9 L115.6,106.6 L115.7,107.2 L115.8,107.9 L115.9,108.6 L116.0,109.2 L116.1,109.9 L116.2,110.6 L116.4,111.2 L116.5,111.9 L116.6,112.5 L116.7,113.2 L116.8,113.9 L116.9,114.5 L117.0,115.2 L117.1,115.9 L117.3,116.5 L117.4,117.2 L117.5,117.9 L117.6,118.5 L117.7,119.2 L117.8,119.8 L117.9,120.5 L118.1,121.2 L118.2,121.8 L118.3,122.5 L118.4,123.2 L118.5,123.8 L118.7,124.5 L118.8,125.2 L118.9,125.8 L119.0,126.5 L119.1,127.1 L119.3,127.8 L119.4,128.5 L119.5,129.1 L119.6,129.8 L119.7,130.5 L119.9,131.1 L120.0,131.8 L120.1,132.5 L120.2,133.1 L120.4,133.8 L120.5,134.4 L120.6,135.1 L120.7,135.8 L120.9,136.4 L121.0,137.1 L121.1,137.8 L121.2,138.4 L121.4,139.1 L121.5,139.8 L121.6,140.4 L121.8,141.1 L121.9,141.7 L122.0,142.4 L122.2,143.1 L122.3,143.7 L122.4,144.4 L122.6,145.1 L122.7,145.7 L122.8,146.4 L123.0,147.1 L123.1,147.7 L123.2,148.4 L123.4,149.0 L123.5,149.7 L123.6,150.4 L123.8,151.0 L123.9,151.7 L124.0,152.4 L124.2,153.0 L124.3,153.7 L124.5,154.4 L124.6,155.0 L124.7,155.7 L124.9,156.3 L125.0,157.0 L125.2,157.7 L125.3,158.3 L125.4,159.0 L125.6,159.7 L125.7,160.3 L125.9,161.0 L126.0,161.6 L126.2,162.3 L126.3,163.0 L126.5,163.6 L126.6,164.3 L126.8,165.0 L126.9,165.6 L127.1,166.3 L127.2,167.0 L127.4,167.6 L127.5,168.3 L127.7,168.9 L127.8,169.6 L128.0,170.3 L128.1,170.9 L128.3,171.6 L128.4,172.3 L128.6,172.9 L128.7,173.6 L128.9,174.3 L129.0,174.9 L129.2,175.6 L129.4,176.2 L129.5,176.9 L129.7,177.6 L129.8,178.2 L130.0,178.9 L130.2,179.6 L130.3,180.2 L130.5,180.9 L130.6,181.5 L130.8,182.2 L131.0,182.9 L131.1,183.5 L131.3,184.2 L131.5,184.9 L131.6,185.5 L131.8,186.2 L132.0,186.9 L132.1,187.5 L132.3,188.2 L132.5,188.8 L132.6,189.5 L132.8,190.2 L133.0,190.8 L133.1,191.5 L133.3,192.2 L133.5,192.8 L133.7,193.5 L133.8,194.1 L134.0,194.8 L134.2,195.5 L134.4,196.1 L134.5,196.8 L134.7,197.5 L134.9,198.1 L135.1,198.8 L135.3,199.5 L135.4,200.1 L135.6,200.8 L135.8,201.4 L136.0,202.1 L136.2,202.8 L136.4,203.4 L136.6,204.1 L136.7,204.8 L136.9,205.4 L137.1,206.1 L137.3,206.7 L137.5,207.4 L137.7,208.1 L137.9,208.7 L138.1,209.4 L138.3,210.1 L138.5,210.7 L138.6,211.4 L138.8,212.0 L139.0,212.7 L139.2,213.4 L139.4,214.0 L139.6,214.7 L139.8,215.4 L140.0,216.0 L140.2,216.7 L140.4,217.3 L140.6,218.0 L140.8,218.7 L141.0,219.3 L141.3,220.0 L141.5,220.7 L141.7,221.3 L141.9,222.0 L142.1,222.6 L142.3,223.3 L142.5,224.0 L142.7,224.6 L142.9,225.3 L143.1,226.0 L143.4,226.6 L143.6,227.3 L143.8,227.9 L144.0,228.6 L144.2,229.3 L144.5,229.9 L144.7,230.6 L144.9,231.3 L145.1,231.9 L145.3,232.6 L145.6,233.2 L145.8,233.9 L146.0,234.6 L146.3,235.2 L146.5,235.9 L146.7,236.6 L146.9,237.2 L147.2,237.9 L147.4,238.5 L147.7,239.2 L147.9,239.9 L148.1,240.5 L148.4,241.2 L148.6,241.9 L148.8,242.5 L149.1,243.2 L149.3,243.8 L149.6,244.5 L149.8,245.2 L150.1,245.8 L150.3,246.5 L150.6,247.2 L150.8,247.8 L151.1,248.5 L151.3,249.1 L151.6,249.8 L151.8,250.5 L152.1,251.1 L152.3,251.8 L152.6,252.4 L152.9,253.1 L153.1,253.8 L153.4,254.4 L153.7,255.1 L153.9,255.8 L154.2,256.4 L154.5,257.1 L154.7,257.7 L155.0,258.4 L155.3,259.1 L155.6,259.7 L155.8,260.4 L156.1,261.0 L156.4,261.7 L156.7,262.4 L157.0,263.0 L157.2,263.7 L157.5,264.4 L157.8,265.0 L158.1,265.7 L158.4,266.3 L158.7,267.0 L159.0,267.7 L159.3,268.3 L159.6,269.0 L159.9,269.6 L160.2,270.3 L160.5,271.0 L160.8,271.6 L161.1,272.3 L161.4,273.0 L161.7,273.6 L162.0,274.3 L162.3,274.9 L162.7,275.6 L163.0,276.3 L163.3,276.9 L163.6,277.6 L163.9,278.2 L164.3,278.9 L164.6,279.6 L164.9,280.2 L165.2,280.9 L165.6,281.5 L165.9,282.2 L166.3,282.9 L166.6,283.5 L166.9,284.2 L167.3,284.8 L167.6,285.5 L168.0,286.2 L168.3,286.8 L168.7,287.5 L169.0,288.2 L169.4,288.8 L169.7,289.5 L170.1,290.1 L170.5,290.8 L170.8,291.5 L171.2,292.1 L171.6,292.8 L172.0,293.4 L172.3,294.1 L172.7,294.8 L173.1,295.4 L173.5,296.1 L173.9,296.7 L174.3,297.4 L174.7,298.1 L175.1,298.7 L175.5,299.4 L175.9,300.0 L176.3,300.7 L176.7,301.4 L177.1,302.0 L177.5,302.7 L177.9,303.3 L178.3,304.0 L178.8,304.6 L179.2,305.3 L179.6,306.0 L180.0,306.6 L180.5,307.3 L180.9,307.9 L181.4,308.6 L181.8,309.3 L182.3,309.9 L182.7,310.6 L183.2,311.2 L183.6,311.9 L184.1,312.6 L184.6,313.2 L185.0,313.9 L185.5,314.5 L186.0,315.2 L186.5,315.9 L187.0,316.5 L187.5,317.2 L188.0,317.8 L188.5,318.5 L189.0,319.1 L189.5,319.8 L190.0,320.5 L190.5,321.1 L191.0,321.8 L191.6,322.4 L192.1,323.1 L192.6,323.7 L193.2,324.4 L193.7,325.1 L194.3,325.7 L194.8,326.4 L195.4,327.0 L196.0,327.7 L196.6,328.4 L197.1,329.0 L197.7,329.7 L198.3,330.3 L198.9,331.0 L199.5,331.6 L200.1,332.3 L200.7,332.9 L201.4,333.6 L202.0,334.3 L202.6,334.9 L203.3,335.6 L203.9,336.2 L204.6,336.9 L205.3,337.5 L205.9,338.2 L206.6,338.9 L207.3,339.5 L208.0,340.2 L208.7,340.8 L209.4,341.5 L210.1,342.1 L210.9,342.8 L211.6,343.4 L212.3,344.1 L213.1,344.7 L213.9,345.4 L214.6,346.1 L215.4,346.7 L216.2,347.4 L217.0,348.0 L217.8,348.7 L218.7,349.3 L219.5,350.0 L220.4,350.6 L221.2,351.3 L222.1,351.9 L223.0,352.6 L223.9,353.2 L224.8,353.9 L225.7,354.5 L226.6,355.2 L227.6,355.9 L228.6,356.5 L229.6,357.2 L230.6,357.8 L231.6,358.5 L232.6,359.1 L233.6,359.7 L234.6,360.3 L235.6,360.9 L236.6,361.5 L237.6,362.1 L238.6,362.7 L239.6,363.2 L240.6,363.8 L241.6,364.4 L242.6,364.9 L243.6,365.4 L244.6,365.9 L245.6,366.5 L246.6,367.0 L247.6,367.5 L248.6,368.0 L249.6,368.4 L250.6,368.9 L251.6,369.4 L252.6,369.8 L253.6,370.3 L254.6,370.8 L255.6,371.2 L256.6,371.6 L257.6,372.1 L258.6,372.5 L259.6,372.9 L260.6,373.3 L261.6,373.7 L262.6,374.1 L263.6,374.5 L264.6,374.9 L265.6,375.2 L266.6,375.6 L267.6,376.0 L268.6,376.3 L269.6,376.7 L270.6,377.1 L271.6,377.4 L272.6,377.7 L273.6,378.1 L274.6,378.4 L275.6,378.7 L276.6,379.0 L277.6,379.4 L278.6,379.7 L279.6,380.0 L280.6,380.3 L281.6,380.6 L282.6,380.9 L283.6,381.2 L284.6,381.4 L285.6,381.7 L286.6,382.0 L287.6,382.3 L288.6,382.5 L289.6,382.8 L290.6,383.1 L291.6,383.3 L292.6,383.6 L293.6,383.8 L294.6,384.1 L295.6,384.3 L296.6,384.5 L297.6,384.8 L298.6,385.0 L299.6,385.2 L300.6,385.4 L301.6,385.7 L302.6,385.9 L303.6,386.1 L304.6,386.3 L305.6,386.5 L306.6,386.7 L307.6,386.9 L308.6,387.1 L309.6,387.3 L310.6,387.5 L311.6,387.7 L312.6,387.9 L313.6,388.1 L314.6,388.3 L315.6,388.4 L316.6,388.6 L317.6,388.8 L318.6,389.0 L319.6,389.1 L320.6,389.3 L321.6,389.5 L322.6,389.6 L323.6,389.8 L324.6,389.9 L325.6,390.1 L326.6,390.2 L327.6,390.4 L328.6,390.6 L329.6,390.8 L330.6,391.0 L331.6,391.2 L332.6,391.4 L333.6,391.5 L334.6,391.3 L335.6,391.1 L336.6,390.9 L337.6,391.0 L338.6,391.2 L339.6,391.4 L340.6,391.5 L341.6,391.6 L342.6,391.7 L343.6,391.9 L344.6,392.1 L345.6,392.3 L346.6,392.5 L347.6,392.8 L348.6,393.0 L349.6,393.3 L350.6,393.5 L351.6,393.7 L352.6,393.9 L353.6,394.0 L354.6,394.1 L355.6,394.2 L356.6,394.3 L357.6,394.4 L358.6,394.4 L359.6,394.3 L360.6,394.3 L361.6,394.3 L362.6,394.5 L363.6,394.5 L364.6,394.4 L365.6,394.2 L366.6,394.2 L367.6,394.4 L368.6,394.8 L369.6,395.1 L370.6,395.1 L371.6,394.9 L372.6,394.8 L373.6,395.1 L374.6,395.6 L375.6,395.9 L376.6,396.1 L377.6,396.1 L378.6,396.2 L379.6,396.3 L380.6,396.5 L381.6,396.6 L382.6,396.5 L383.6,396.3 L384.6,396.2 L385.6,396.2 L386.6,396.2 L387.6,396.2 L388.6,396.3 L389.6,396.5 L390.6,396.6 L391.6,396.7 L392.6,396.8 L393.6,396.8 L394.6,396.7 L395.6,396.5 L396.6,396.5 L397.6,396.6 L398.6,396.9 L399.6,397.2 L400.6,397.4 L401.6,397.7 L402.6,397.8 L403.6,398.0 L404.6,398.2 L405.6,398.3 L406.6,398.1 L407.6,397.9 L408.6,397.7 L409.6,397.7 L410.6,397.7 L411.6,397.7 L412.6,397.6 L413.6,397.6 L414.6,397.6 L415.6,397.8 L416.6,398.0 L417.6,398.1 L418.6,397.9 L419.6,397.6 L420.6,397.4 L421.6,397.4 L422.6,397.6 L423.6,397.9 L424.6,398.1 L425.6,398.5 L426.6,398.7 L427.6,398.7 L428.6,398.7 L429.6,398.7 L430.6,398.9 L431.6,399.1 L432.6,399.2 L433.6,399.2 L434.6,399.1 L435.6,399.0 L436.6,399.1 L437.6,399.2 L438.6,399.3 L439.6,399.3 L440.6,399.3 L441.6,399.2 L442.6,398.9 L443.6,398.5 L444.6,398.3 L445.6,398.4 L446.6,398.7 L447.6,398.9 L448.6,399.0 L449.6,399.2 L450.6,399.3 L451.6,399.3 L452.6,399.3 L453.6,399.4 L454.6,399.3 L455.6,399.3 L456.6,399.3 L457.6,399.6 L458.6,399.9 L459.6,400.1 L460.6,400.0 L461.6,399.8 L462.6,399.6 L463.6,399.6 L464.6,399.7 L465.6,399.8 L466.6,399.9 L467.6,400.0 L468.6,400.0 L469.6,399.8 L470.6,399.5 L471.6,399.2 L472.6,399.1 L473.6,399.1 L474.6,399.1 L475.6,399.1 L476.6,399.1 L477.6,399.1 L478.6,399.1 L479.6,399.2 L480.6,399.3 L481.6,399.6 L482.6,400.0 L483.6,400.3 L484.6,400.3 L485.6,400.2 L486.6,400.1 L487.6,400.2 L488.6,400.2 L489.6,400.3 L490.6,400.3 L491.6,400.4 L492.6,400.4 L493.6,400.2 L494.6,399.9 L495.6,399.7 L496.6,399.8 L497.6,399.9 L498.6,400.0 L499.6,399.8 L500.6,399.6 L501.6,399.5 L502.6,399.6 L503.6,399.8 L504.6,400.0 L505.6,400.1 L506.6,400.3 L507.6,400.3 L508.6,400.3 L509.6,400.2 L510.6,400.1 L511.6,400.3 L512.6,400.5 L513.6,400.7 L514.6,400.9 L515.6,401.0 L516.6,401.0 L517.6,401.0 L518.6,400.8 L519.6,400.7 L520.6,400.5 L521.6,400.2 L522.6,400.1 L523.6,400.1 L524.6,400.2 L525.6,400.3 L526.6,400.3 L527.6,400.3 L528.6,400.3 L529.6,400.2 L530.6,400.2 L531.6,400.2 L532.6,400.4 L533.6,400.7 L534.6,400.9 L535.6,400.9 L536.6,400.9 L537.6,400.9 L538.6,401.1 L539.6,401.3 L540.6,401.4 L541.6,401.3 L542.6,401.0 L543.6,400.8 L544.6,400.7 L545.6,400.7 L546.6,400.7 L547.6,400.8 L548.6,401.0 L549.6,401.0 L550.6,400.9 L551.6,400.6 L552.6,400.4 L553.6,400.2 L554.6,400.1 L555.6,400.0 L556.6,400.2 L557.6,400.6 L558.6,400.8 L559.6,400.7 L560.6,400.6 L561.6,400.5 L562.6,400.7 L563.6,401.0 L564.6,401.2 L565.6,401.3 L566.6,401.4 L567.6,401.5 L568.6,401.5 L569.6,401.6 L570.6,401.7 L571.6,401.6 L572.6,401.4 L573.6,401.3 L574.6,401.2 L575.6,401.2 L576.6,401.1 L577.6,400.9 L578.6,400.7 L579.6,400.5 L580.6,400.4 L581.6,400.3 L582.6,400.3 L583.6,400.5 L584.6,400.7 L585.6,400.9 L586.6,400.9 L587.6,400.8 L588.6,400.7 L589.6,401.0 L590.6,401.3 L591.6,401.6 L592.6,401.6 L593.6,401.6 L594.6,401.5 L595.6,401.6 L596.6,401.6 L597.6,401.6 L598.6,401.4 L599.6,401.1 L600.6,401.0 L601.6,401.1 L602.6,401.3 L603.6,401.4 L604.6,401.3 L605.6,401.0 L606.6,400.7 L607.6,400.7 L608.6,400.7 L609.6,400.7 L610.6,400.7 L611.6,400.6 L612.6,400.6 L613.6,400.6 L614.6,400.6 L615.6,400.7 L616.6,401.0 L617.6,401.3 L618.6,401.6 L619.6,401.7 L620.6,401.6 L621.6,401.6 L622.6,401.4 L623.6,401.2 L624.6,401.1 L625.6,401.2 L626.6,401.4 L627.6,401.5 L628.6,401.4 L629.6,401.2 L630.6,401.0 L631.6,400.9 L632.6,400.9 L633.6,400.9 L634.6,400.9 L635.6,401.0 L636.6,401.0 L637.6,400.9 L638.6,400.7 L639.6,400.6 L640.6,400.8 L641.6,401.1 L642.6,401.4" fill="none" stroke="#363636" stroke-width="2.6" stroke-linejoin="round" stroke-linecap="round"/>
<path d="M103.4,20.5 L105.0,20.4 L106.5,20.3 L107.8,20.4 L108.6,20.7 L109.2,21.3 L109.8,22.3 L110.6,23.8 L111.4,25.8 L112.3,27.9 L113.5,30.2 L114.8,32.6 L115.9,35.0 L116.8,37.5 L117.4,40.0 L118.0,41.9 L118.4,43.0 L118.7,43.5 L118.9,43.9 L119.2,44.6 L119.5,45.3 L119.8,45.9 L120.1,46.6 L120.5,47.3 L120.8,47.9 L121.1,48.6 L121.4,49.2 L121.7,49.9 L122.0,50.6 L122.3,51.2 L122.7,51.9 L123.0,52.6 L123.3,53.2 L123.6,53.9 L123.9,54.6 L124.3,55.2 L124.6,55.9 L124.9,56.5 L125.2,57.2 L125.6,57.9 L125.9,58.5 L126.2,59.2 L126.5,59.9 L126.9,60.5 L127.2,61.2 L127.5,61.9 L127.9,62.5 L128.2,63.2 L128.5,63.8 L128.9,64.5 L129.2,65.2 L129.5,65.8 L129.9,66.5 L130.2,67.2 L130.6,67.8 L130.9,68.5 L131.3,69.2 L131.6,69.8 L131.9,70.5 L132.3,71.2 L132.6,71.8 L133.0,72.5 L133.3,73.1 L133.7,73.8 L134.0,74.5 L134.4,75.1 L134.7,75.8 L135.1,76.5 L135.4,77.1 L135.8,77.8 L136.2,78.5 L136.5,79.1 L136.9,79.8 L137.2,80.4 L137.6,81.1 L137.9,81.8 L138.3,82.4 L138.7,83.1 L139.0,83.8 L139.4,84.4 L139.8,85.1 L140.1,85.8 L140.5,86.4 L140.9,87.1 L141.2,87.8 L141.6,88.4 L142.0,89.1 L142.4,89.7 L142.7,90.4 L143.1,91.1 L143.5,91.7 L143.9,92.4 L144.3,93.1 L144.6,93.7 L145.0,94.4 L145.4,95.1 L145.8,95.7 L146.2,96.4 L146.6,97.0 L146.9,97.7 L147.3,98.4 L147.7,99.0 L148.1,99.7 L148.5,100.4 L148.9,101.0 L149.3,101.7 L149.7,102.4 L150.1,103.0 L150.5,103.7 L150.9,104.4 L151.3,105.0 L151.7,105.7 L152.1,106.3 L152.5,107.0 L152.9,107.7 L153.3,108.3 L153.7,109.0 L154.1,109.7 L154.5,110.3 L154.9,111.0 L155.3,111.7 L155.7,112.3 L156.1,113.0 L156.6,113.6 L157.0,114.3 L157.4,115.0 L157.8,115.6 L158.2,116.3 L158.6,117.0 L159.1,117.6 L159.5,118.3 L159.9,119.0 L160.3,119.6 L160.8,120.3 L161.2,120.9 L161.6,121.6 L162.0,122.3 L162.5,122.9 L162.9,123.6 L163.3,124.3 L163.8,124.9 L164.2,125.6 L164.6,126.3 L165.1,126.9 L165.5,127.6 L166.0,128.3 L166.4,128.9 L166.8,129.6 L167.3,130.2 L167.7,130.9 L168.2,131.6 L168.6,132.2 L169.1,132.9 L169.5,133.6 L170.0,134.2 L170.4,134.9 L170.9,135.6 L171.4,136.2 L171.8,136.9 L172.3,137.5 L172.7,138.2 L173.2,138.9 L173.7,139.5 L174.1,140.2 L174.6,140.9 L175.1,141.5 L175.5,142.2 L176.0,142.9 L176.5,143.5 L176.9,144.2 L177.4,144.8 L177.9,145.5 L178.4,146.2 L178.8,146.8 L179.3,147.5 L179.8,148.2 L180.3,148.8 L180.8,149.5 L181.3,150.2 L181.8,150.8 L182.2,151.5 L182.7,152.1 L183.2,152.8 L183.7,153.5 L184.2,154.1 L184.7,154.8 L185.2,155.5 L185.7,156.1 L186.2,156.8 L186.7,157.5 L187.2,158.1 L187.7,158.8 L188.2,159.4 L188.7,160.1 L189.3,160.8 L189.8,161.4 L190.3,162.1 L190.8,162.8 L191.3,163.4 L191.8,164.1 L192.4,164.8 L192.9,165.4 L193.4,166.1 L193.9,166.7 L194.5,167.4 L195.0,168.1 L195.5,168.7 L196.1,169.4 L196.6,170.1 L197.1,170.7 L197.7,171.4 L198.2,172.1 L198.7,172.7 L199.3,173.4 L199.8,174.0 L200.4,174.7 L200.9,175.4 L201.5,176.0 L202.0,176.7 L202.6,177.4 L203.1,178.0 L203.7,178.7 L204.3,179.4 L204.8,180.0 L205.4,180.7 L205.9,181.3 L206.5,182.0 L207.1,182.7 L207.7,183.3 L208.2,184.0 L208.8,184.7 L209.4,185.3 L210.0,186.0 L210.5,186.7 L211.1,187.3 L211.7,188.0 L212.3,188.6 L212.9,189.3 L213.5,190.0 L214.1,190.6 L214.7,191.3 L215.3,192.0 L215.9,192.6 L216.5,193.3 L217.1,193.9 L217.7,194.6 L218.3,195.3 L218.9,195.9 L219.5,196.6 L220.1,197.3 L220.7,197.9 L221.4,198.6 L222.0,199.3 L222.6,199.9 L223.2,200.6 L223.9,201.2 L224.5,201.9 L225.1,202.6 L225.8,203.2 L226.4,203.9 L227.0,204.6 L227.7,205.2 L228.3,205.9 L229.0,206.5 L229.6,207.2 L230.3,207.9 L230.9,208.5 L231.6,209.2 L232.2,209.9 L232.9,210.5 L233.6,211.2 L234.2,211.9 L234.9,212.5 L235.6,213.2 L236.2,213.8 L236.9,214.5 L237.6,215.2 L238.3,215.8 L239.0,216.5 L239.7,217.2 L240.3,217.8 L241.0,218.5 L241.7,219.1 L242.4,219.8 L243.1,220.5 L243.8,221.1 L244.5,221.8 L245.3,222.5 L246.0,223.1 L246.7,223.8 L247.4,224.4 L248.1,225.1 L248.8,225.8 L249.6,226.4 L250.3,227.1 L251.0,227.8 L251.8,228.4 L252.5,229.1 L253.3,229.7 L254.0,230.4 L254.7,231.1 L255.5,231.7 L256.3,232.4 L257.0,233.1 L257.8,233.7 L258.5,234.4 L259.3,235.0 L260.1,235.7 L260.8,236.4 L261.6,237.0 L262.4,237.7 L263.2,238.4 L264.0,239.0 L264.8,239.7 L265.6,240.3 L266.4,241.0 L267.2,241.7 L268.0,242.3 L268.8,243.0 L269.6,243.7 L270.4,244.3 L271.2,245.0 L272.1,245.6 L272.9,246.3 L273.7,247.0 L274.5,247.6 L275.4,248.3 L276.2,249.0 L277.1,249.6 L277.9,250.3 L278.8,250.9 L279.6,251.6 L280.5,252.3 L281.4,252.9 L282.2,253.6 L283.1,254.3 L284.0,254.9 L284.9,255.6 L285.8,256.2 L286.7,256.9 L287.5,257.6 L288.4,258.2 L289.4,258.9 L290.3,259.5 L291.2,260.2 L292.1,260.9 L293.0,261.5 L293.9,262.2 L294.9,262.9 L295.8,263.5 L296.8,264.2 L297.7,264.8 L298.7,265.5 L299.6,266.2 L300.6,266.8 L301.5,267.5 L302.5,268.1 L303.5,268.8 L304.5,269.5 L305.5,270.1 L306.4,270.8 L307.4,271.5 L308.4,272.1 L309.4,272.8 L310.4,273.4 L311.4,274.1 L312.4,274.7 L313.4,275.4 L314.4,276.0 L315.4,276.6 L316.4,277.3 L317.4,277.9 L318.4,278.5 L319.4,279.1 L320.4,279.8 L321.4,280.4 L322.4,281.0 L323.4,281.6 L324.4,282.2 L325.4,282.8 L326.4,283.4 L327.4,284.0 L328.4,284.6 L329.4,285.2 L330.4,285.8 L331.4,286.4 L332.4,286.9 L333.4,287.5 L334.4,288.1 L335.4,288.7 L336.4,289.2 L337.4,289.8 L338.4,290.4 L339.4,290.9 L340.4,291.5 L341.4,292.0 L342.4,292.6 L343.4,293.1 L344.4,293.7 L345.4,294.2 L346.4,294.7 L347.4,295.3 L348.4,295.8 L349.4,296.3 L350.4,296.9 L351.4,297.4 L352.4,297.9 L353.4,298.4 L354.4,299.0 L355.4,299.5 L356.4,300.0 L357.4,300.5 L358.4,301.0 L359.4,301.5 L360.4,302.0 L361.4,302.5 L362.4,303.0 L363.4,303.5 L364.4,304.0 L365.4,304.5 L366.4,305.0 L367.4,305.4 L368.4,305.9 L369.4,306.4 L370.4,306.9 L371.4,307.3 L372.4,307.8 L373.4,308.3 L374.4,308.7 L375.4,309.2 L376.4,309.7 L377.4,310.1 L378.4,310.6 L379.4,311.0 L380.4,311.5 L381.4,311.9 L382.4,312.4 L383.4,312.8 L384.4,313.3 L385.4,313.7 L386.4,314.1 L387.4,314.6 L388.4,315.0 L389.4,315.4 L390.4,315.9 L391.4,316.3 L392.4,316.7 L393.4,317.1 L394.4,317.6 L395.4,318.0 L396.4,318.4 L397.4,318.8 L398.4,319.2 L399.4,319.6 L400.4,320.0 L401.4,320.4 L402.4,320.8 L403.4,321.2 L404.4,321.6 L405.4,322.0 L406.4,322.4 L407.4,322.8 L408.4,323.2 L409.4,323.6 L410.4,324.0 L411.4,324.4 L412.4,324.8 L413.4,325.1 L414.4,325.5 L415.4,325.9 L416.4,326.3 L417.4,326.6 L418.4,327.0 L419.4,327.4 L420.4,327.8 L421.4,328.1 L422.4,328.5 L423.4,328.8 L424.4,329.2 L425.4,329.6 L426.4,329.9 L427.4,330.3 L428.4,330.6 L429.4,331.0 L430.4,331.3 L431.4,331.7 L432.4,332.0 L433.4,332.4 L434.4,332.7 L435.4,333.0 L436.4,333.4 L437.4,333.7 L438.4,334.1 L439.4,334.4 L440.4,334.7 L441.4,335.1 L442.4,335.4 L443.4,335.7 L444.4,336.0 L445.4,336.4 L446.4,336.7 L447.4,337.0 L448.4,337.3 L449.4,337.6 L450.4,338.0 L451.4,338.3 L452.4,338.6 L453.4,338.9 L454.4,339.2 L455.4,339.5 L456.4,339.8 L457.4,340.1 L458.4,340.4 L459.4,340.7 L460.4,341.0 L461.4,341.3 L462.4,341.6 L463.4,341.9 L464.4,342.2 L465.4,342.5 L466.4,342.8 L467.4,343.1 L468.4,343.4 L469.4,343.7 L470.4,343.9 L471.4,344.2 L472.4,344.5 L473.4,344.8 L474.4,345.1 L475.4,345.3 L476.4,345.6 L477.4,345.9 L478.4,346.2 L479.4,346.4 L480.4,346.7 L481.4,347.0 L482.4,347.3 L483.4,347.5 L484.4,347.8 L485.4,348.1 L486.4,348.3 L487.4,348.6 L488.4,348.8 L489.4,349.1 L490.4,349.4 L491.4,349.6 L492.4,349.9 L493.4,350.1 L494.4,350.4 L495.4,350.6 L496.4,350.9 L497.4,351.1 L498.4,351.4 L499.4,351.6 L500.4,351.9 L501.4,352.1 L502.4,352.4 L503.4,352.6 L504.4,352.8 L505.4,353.1 L506.4,353.3 L507.4,353.5 L508.4,353.8 L509.4,354.0 L510.4,354.3 L511.4,354.5 L512.4,354.7 L513.4,354.9 L514.4,355.2 L515.4,355.4 L516.4,355.6 L517.4,355.9 L518.4,356.1 L519.4,356.3 L520.4,356.5 L521.4,356.7 L522.4,357.0 L523.4,357.2 L524.4,357.4 L525.4,357.6 L526.4,357.8 L527.4,358.1 L528.4,358.3 L529.4,358.5 L530.4,358.7 L531.4,358.9 L532.4,359.1 L533.4,359.3 L534.4,359.5 L535.4,359.7 L536.4,359.9 L537.4,360.1 L538.4,360.3 L539.4,360.5 L540.4,360.8 L541.4,361.0 L542.4,361.2 L543.4,361.3 L544.4,361.5 L545.4,361.7 L546.4,361.9 L547.4,362.1 L548.4,362.3 L549.4,362.5 L550.4,362.7 L551.4,362.9 L552.4,363.1 L553.4,363.3 L554.3,363.5 L555.4,363.7 L556.7,363.6 L558.2,363.6 L560.0,363.7 L562.5,364.3 L565.4,365.1 L568.0,365.7 L569.9,366.0 L571.6,366.1 L573.4,366.4 L575.5,366.9 L577.8,367.5 L580.1,368.0 L582.3,368.2 L584.6,368.2 L586.8,368.4 L589.0,368.9 L591.3,369.5 L593.5,370.0 L595.7,370.3 L598.0,370.5 L600.2,370.8 L602.4,371.3 L604.7,371.8 L606.9,372.2 L609.1,372.3 L611.4,372.2 L613.6,372.4 L615.8,372.9 L618.1,373.7 L620.3,374.4 L622.6,375.1 L624.9,375.8 L627.0,376.2 L628.9,376.0 L630.7,375.6 L632.4,375.4 L634.1,375.7 L635.8,376.2 L637.7,376.7 L639.9,377.0 L642.2,377.3 L644.6,377.5" fill="none" stroke="#000" stroke-width="2.8" stroke-linejoin="round" stroke-linecap="round"/>
<path d="M102.7,13.3 V405.7 H645.2" fill="none" stroke="#000" stroke-width="2.6"/>
<line x1="94.4" y1="405.7" x2="102.7" y2="405.7" stroke="#000" stroke-width="2.4"/>
<line x1="94.4" y1="327.2" x2="102.7" y2="327.2" stroke="#000" stroke-width="2.4"/>
<line x1="94.4" y1="248.7" x2="102.7" y2="248.7" stroke="#000" stroke-width="2.4"/>
<line x1="94.4" y1="170.3" x2="102.7" y2="170.3" stroke="#000" stroke-width="2.4"/>
<line x1="94.4" y1="91.8" x2="102.7" y2="91.8" stroke="#000" stroke-width="2.4"/>
<line x1="94.4" y1="13.3" x2="102.7" y2="13.3" stroke="#000" stroke-width="2.4"/>
<line x1="102.7" y1="405.7" x2="102.7" y2="413.8" stroke="#000" stroke-width="2.4"/>
<line x1="170.5" y1="405.7" x2="170.5" y2="413.8" stroke="#000" stroke-width="2.4"/>
<line x1="238.3" y1="405.7" x2="238.3" y2="413.8" stroke="#000" stroke-width="2.4"/>
<line x1="306.1" y1="405.7" x2="306.1" y2="413.8" stroke="#000" stroke-width="2.4"/>
<line x1="373.9" y1="405.7" x2="373.9" y2="413.8" stroke="#000" stroke-width="2.4"/>
<line x1="441.8" y1="405.7" x2="441.8" y2="413.8" stroke="#000" stroke-width="2.4"/>
<line x1="509.6" y1="405.7" x2="509.6" y2="413.8" stroke="#000" stroke-width="2.4"/>
<line x1="577.4" y1="405.7" x2="577.4" y2="413.8" stroke="#000" stroke-width="2.4"/>
<line x1="645.2" y1="405.7" x2="645.2" y2="413.8" stroke="#000" stroke-width="2.4"/>
<text id="y10" x="44.80" y="20.70" font-family="Liberation Sans, sans-serif" font-weight="bold" font-size="23.00" textLength="34.10" lengthAdjust="spacingAndGlyphs">1.0</text>
<text id="y08" x="44.60" y="99.60" font-family="Liberation Sans, sans-serif" font-weight="bold" font-size="23.00" textLength="34.30" lengthAdjust="spacingAndGlyphs">0.8</text>
<text id="y06" x="44.80" y="178.10" font-family="Liberation Sans, sans-serif" font-weight="bold" font-size="23.00" textLength="33.50" lengthAdjust="spacingAndGlyphs">0.6</text>
<text id="y04" x="44.80" y="256.00" font-family="Liberation Sans, sans-serif" font-weight="bold" font-size="23.00" textLength="33.50" lengthAdjust="spacingAndGlyphs">0.4</text>
<text id="y02" x="44.80" y="334.50" font-family="Liberation Sans, sans-serif" font-weight="bold" font-size="23.00" textLength="33.50" lengthAdjust="spacingAndGlyphs">0.2</text>
<text id="y00" x="44.80" y="413.00" font-family="Liberation Sans, sans-serif" font-weight="bold" font-size="23.00" textLength="33.50" lengthAdjust="spacingAndGlyphs">0.0</text>
<text id="x0" x="96.60" y="455.20" font-family="Liberation Sans, sans-serif" font-weight="bold" font-size="23.00">0</text>
<text id="x5" x="232.00" y="454.40" font-family="Liberation Sans, sans-serif" font-weight="bold" font-size="23.00">5</text>
<text id="x10" x="360.00" y="454.60" font-family="Liberation Sans, sans-serif" font-weight="bold" font-size="23.00" textLength="27.80" lengthAdjust="spacingAndGlyphs">10</text>
<text id="x15" x="497.00" y="454.40" font-family="Liberation Sans, sans-serif" font-weight="bold" font-size="23.00" textLength="25.00" lengthAdjust="spacingAndGlyphs">15</text>
<text id="x20" x="632.00" y="455.00" font-family="Liberation Sans, sans-serif" font-weight="bold" font-size="23.00" textLength="27.20" lengthAdjust="spacingAndGlyphs">20</text>
<text id="xt" x="302.60" y="485.00" font-family="Liberation Sans, sans-serif" font-weight="bold" font-size="28.88" textLength="110.20" lengthAdjust="spacingAndGlyphs">Time (h)</text>
<text id="gu" x="218.20" y="302.00" font-family="Liberation Sans, sans-serif" font-weight="bold" font-size="21.70" textLength="79.40" lengthAdjust="spacingAndGlyphs"><tspan dy="1.4">+</tspan><tspan dy="-1.4"> GuHCl</tspan></text>
<text id="l0" x="446.10" y="332.70" font-family="Liberation Sans, sans-serif" font-weight="bold" font-size="17.20" textLength="46.60" lengthAdjust="spacingAndGlyphs">0.0 M</text>
<text id="l2" x="259.80" y="370.60" font-family="Liberation Sans, sans-serif" font-weight="bold" font-size="17.20" textLength="46.00" lengthAdjust="spacingAndGlyphs">0.2 M</text>
<text id="l4" x="179.90" y="385.90" font-family="Liberation Sans, sans-serif" font-weight="bold" font-size="17.20" textLength="46.40" lengthAdjust="spacingAndGlyphs">0.4 M</text>
<text id="l6" x="103.50" y="401.30" font-family="Liberation Sans, sans-serif" font-weight="bold" font-size="17.20" textLength="47.20" lengthAdjust="spacingAndGlyphs">0.6 M</text>
<text id="i15" x="374.80" y="40.40" font-family="Liberation Sans, sans-serif" font-weight="bold" font-size="16.60" textLength="25.60" lengthAdjust="spacingAndGlyphs">1.5</text>
<text id="i05" x="375.00" y="78.30" font-family="Liberation Sans, sans-serif" font-weight="bold" font-size="16.60" textLength="25.40" lengthAdjust="spacingAndGlyphs">0.5</text>
<text id="in05" x="368.60" y="115.20" font-family="Liberation Sans, sans-serif" font-weight="bold" font-size="16.60" textLength="31.00" lengthAdjust="spacingAndGlyphs">-0.5</text>
<text id="in15" x="368.60" y="152.40" font-family="Liberation Sans, sans-serif" font-weight="bold" font-size="16.60" textLength="30.60" lengthAdjust="spacingAndGlyphs">-1.5</text>
<text id="in25" x="368.20" y="190.30" font-family="Liberation Sans, sans-serif" font-weight="bold" font-size="16.60" textLength="31.00" lengthAdjust="spacingAndGlyphs">-2.5</text>
<text id="ix0" x="412.80" y="221.30" font-family="Liberation Sans, sans-serif" font-weight="bold" font-size="16.60">0</text>
<text id="ix2" x="469.80" y="221.30" font-family="Liberation Sans, sans-serif" font-weight="bold" font-size="16.60" textLength="25.00" lengthAdjust="spacingAndGlyphs">0.2</text>
<text id="ix4" x="534.40" y="221.10" font-family="Liberation Sans, sans-serif" font-weight="bold" font-size="16.60" textLength="24.80" lengthAdjust="spacingAndGlyphs">0.4</text>
<text id="ix6" x="599.00" y="221.10" font-family="Liberation Sans, sans-serif" font-weight="bold" font-size="16.60" textLength="25.80" lengthAdjust="spacingAndGlyphs">0.6</text>
<text id="ixt" x="467.50" y="245.30" font-family="Liberation Sans, sans-serif" font-weight="bold" font-size="22.07" textLength="128.40" lengthAdjust="spacingAndGlyphs">[GuHCl] (M)</text>
<text id="yt" transform="translate(30.70,220.25) rotate(-90)" x="0" y="0" font-family="Liberation Sans, sans-serif" font-weight="bold" font-size="27.00" text-anchor="middle" textLength="317.00" lengthAdjust="spacingAndGlyphs">Normalized Absorbance</text>
<path d="M204.8,304.9 L196.6,309.2 L204.8,313.6" fill="none" stroke="#000" stroke-width="2.6" stroke-linejoin="round" stroke-linecap="round"/>
<line x1="196.8" y1="309.2" x2="216.2" y2="309.2" stroke="#000" stroke-width="2.6"/>
<line x1="224.4" y1="309.2" x2="353" y2="309.2" stroke="#000" stroke-width="2.6" stroke-dasharray="19.3 8.0"/>
<path d="M418.4,17.1 V184.3 H644.3" fill="none" stroke="#000" stroke-width="2"/>
<line x1="412.2" y1="35.1" x2="418.4" y2="35.1" stroke="#000" stroke-width="2"/>
<line x1="412.2" y1="72.4" x2="418.4" y2="72.4" stroke="#000" stroke-width="2"/>
<line x1="412.2" y1="109.7" x2="418.4" y2="109.7" stroke="#000" stroke-width="2"/>
<line x1="412.2" y1="147.0" x2="418.4" y2="147.0" stroke="#000" stroke-width="2"/>
<line x1="412.2" y1="184.3" x2="418.4" y2="184.3" stroke="#000" stroke-width="2"/>
<line x1="418.4" y1="184.3" x2="418.4" y2="190.2" stroke="#000" stroke-width="2"/>
<line x1="482.9" y1="184.3" x2="482.9" y2="190.2" stroke="#000" stroke-width="2"/>
<line x1="547.3" y1="184.3" x2="547.3" y2="190.2" stroke="#000" stroke-width="2"/>
<line x1="611.8" y1="184.3" x2="611.8" y2="190.2" stroke="#000" stroke-width="2"/>
<rect x="413.6" y="158.3" width="9.2" height="9.2" fill="#000"/>
<rect x="478.4" y="114.6" width="9.2" height="9.2" fill="#000"/>
<rect x="542.6" y="80.6" width="9.2" height="9.2" fill="#000"/>
<rect x="607.3" y="43.6" width="9.2" height="9.2" fill="#000"/>
<line x1="418.4" y1="160.5" x2="612.5" y2="47.5" stroke="#444" stroke-width="2.2"/>
<text id="iyt" transform="translate(354.30,151.00) rotate(-90)" x="0" y="0" font-family="Liberation Sans, sans-serif" font-weight="bold" font-size="23.45">ln <tspan font-style="italic">k</tspan> (h<tspan font-size="14.00" dy="-8.00">-1</tspan><tspan dy="8.00">)</tspan></text>
</svg>
</body></html>
